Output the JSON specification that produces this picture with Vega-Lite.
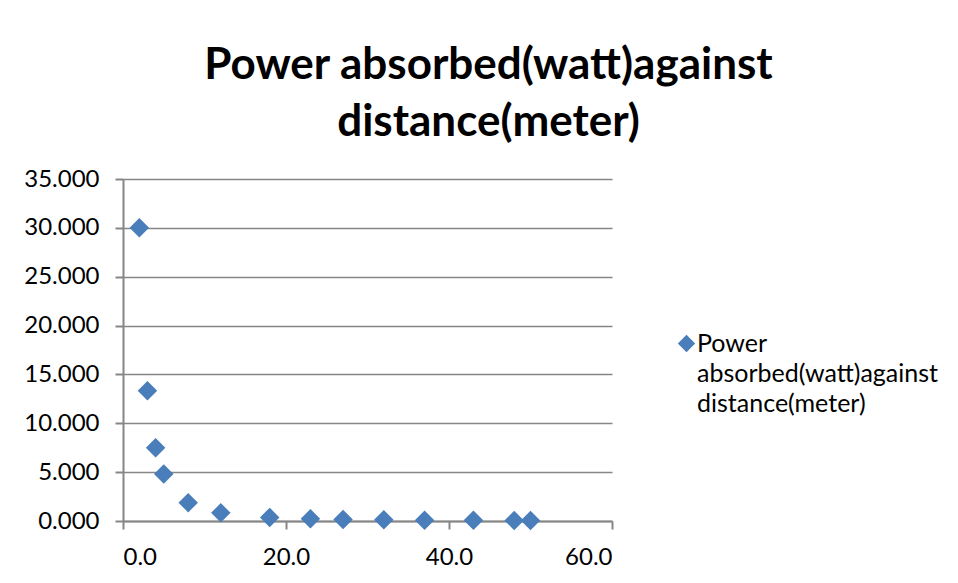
{
  "$schema": "https://vega.github.io/schema/vega-lite/v6.json",
  "autosize": {"type": "none"},
  "padding": {"left": 123, "top": 179, "right": 346, "bottom": 62},
  "width": 489,
  "height": 342,
  "background": "white",
  "title": {
    "text": ["Power absorbed(watt)against", "distance(meter)"],
    "font": "Lato",
    "fontSize": 44,
    "fontWeight": "bold",
    "color": "black",
    "lineHeight": 57,
    "anchor": "middle",
    "frame": "group",
    "dx": 121,
    "offset": 22
  },
  "data": {
    "values": [
      {"distance": 2, "power": 30.0, "series": "Power absorbed(watt)against distance(meter)"},
      {"distance": 3, "power": 13.333, "series": "Power absorbed(watt)against distance(meter)"},
      {"distance": 4, "power": 7.5, "series": "Power absorbed(watt)against distance(meter)"},
      {"distance": 5, "power": 4.8, "series": "Power absorbed(watt)against distance(meter)"},
      {"distance": 8, "power": 1.875, "series": "Power absorbed(watt)against distance(meter)"},
      {"distance": 12, "power": 0.833, "series": "Power absorbed(watt)against distance(meter)"},
      {"distance": 18, "power": 0.37, "series": "Power absorbed(watt)against distance(meter)"},
      {"distance": 23, "power": 0.227, "series": "Power absorbed(watt)against distance(meter)"},
      {"distance": 27, "power": 0.165, "series": "Power absorbed(watt)against distance(meter)"},
      {"distance": 32, "power": 0.117, "series": "Power absorbed(watt)against distance(meter)"},
      {"distance": 37, "power": 0.088, "series": "Power absorbed(watt)against distance(meter)"},
      {"distance": 43, "power": 0.065, "series": "Power absorbed(watt)against distance(meter)"},
      {"distance": 48, "power": 0.052, "series": "Power absorbed(watt)against distance(meter)"},
      {"distance": 50, "power": 0.048, "series": "Power absorbed(watt)against distance(meter)"}
    ]
  },
  "mark": {"type": "point", "shape": "diamond", "filled": true, "size": 380, "opacity": 1},
  "encoding": {
    "x": {
      "field": "distance",
      "type": "quantitative",
      "scale": {"domain": [0, 60], "nice": false, "zero": false},
      "axis": {
        "title": null,
        "values": [0, 20, 40, 60],
        "format": ".1f",
        "grid": false,
        "tickSize": 8,
        "labelPadding": 16
      }
    },
    "y": {
      "field": "power",
      "type": "quantitative",
      "scale": {"domain": [0, 35], "nice": false},
      "axis": {
        "title": null,
        "values": [0, 5, 10, 15, 20, 25, 30, 35],
        "format": ".3f",
        "grid": true,
        "tickSize": 8,
        "labelPadding": 16
      }
    },
    "color": {
      "field": "series",
      "type": "nominal",
      "scale": {"range": ["#4A7EBB"]},
      "legend": {
        "title": null,
        "orient": "none",
        "legendX": 551,
        "legendY": 152,
        "padding": 0,
        "symbolType": "diamond",
        "symbolSize": 300,
        "symbolStrokeWidth": 0,
        "labelOffset": -2,
        "labelFont": "Lato",
        "labelFontSize": 25,
        "labelColor": "black",
        "labelLimit": 400,
        "labelBaseline": "middle",
        "labelExpr": "['Power', 'absorbed(watt)against', 'distance(meter)']"
      }
    }
  },
  "config": {
    "view": {"stroke": null},
    "style": {"guide-label": {"lineHeight": 30}},
    "axis": {
      "labelFont": "Lato",
      "labelFontSize": 24,
      "labelColor": "black",
      "domainColor": "#868686",
      "domainWidth": 2,
      "tickColor": "#868686",
      "tickWidth": 2,
      "gridColor": "#868686",
      "gridWidth": 1.5,
      "gridOpacity": 1
    }
  }
}
